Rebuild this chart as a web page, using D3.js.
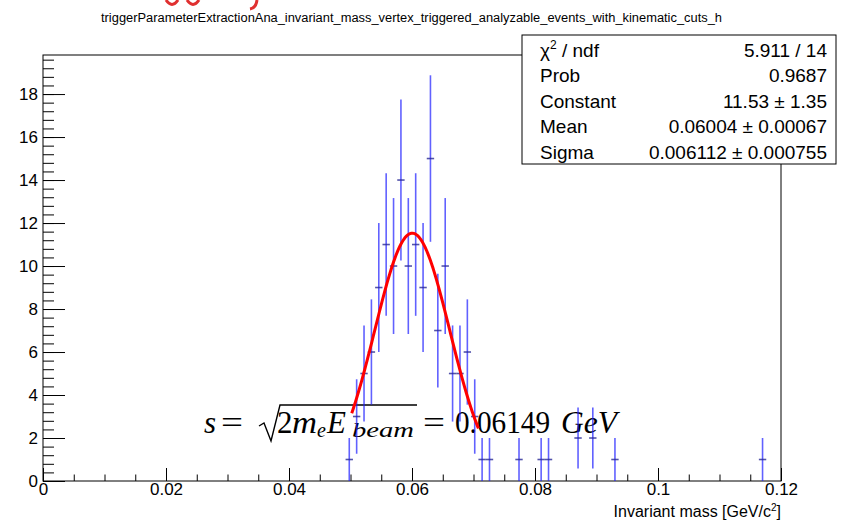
<!DOCTYPE html>
<html>
<head>
<meta charset="utf-8">
<script src="https://d3js.org/d3.v7.min.js"></script>
<style>
  body { margin:0; background:#fff; }
  svg { display:block; background:#fff; }
  .lbl { font-family:"Liberation Sans", Arial, sans-serif; fill:#000; }
  .tex { font-family:"Liberation Serif", "DejaVu Serif", serif; fill:#000; }
</style>
</head>
<body>
<script>
// histogram bins (bin width 0.0012 GeV, empty bins left out)
const binCenters = [0.0498, 0.0510, 0.0522, 0.0534, 0.0546, 0.0558, 0.0570, 0.0582, 0.0594, 0.0606,
                    0.0618, 0.0630, 0.0642, 0.0654, 0.0666, 0.0678, 0.0690, 0.0702, 0.0714, 0.0726,
                    0.0774, 0.0810, 0.0822, 0.0870, 0.0894, 0.0930, 0.1170];
const counts = [1, 3, 5, 6, 9, 11, 10, 14, 10, 11,
                9, 15, 7, 10, 5, 5, 6, 3, 1, 1,
                1, 1, 1, 2, 2, 1, 1];
const binWidth = 0.0012;

// gaussian fit results (from the stats box)
const statNames = ["χ2 / ndf", "Prob", "Constant", "Mean", "Sigma"];
const statValues = ["5.911 / 14", "0.9687", "11.53 ± 1.35", "0.06004 ± 0.00067", "0.006112 ± 0.000755"];
const fitConstant = 11.53, fitMean = 0.06004, fitSigma = 0.006112;
const fitRange = [0.0502, 0.0708];

const xTicks = [0, 0.02, 0.04, 0.06, 0.08, 0.1, 0.12];
const yTicks = [0, 2, 4, 6, 8, 10, 12, 14, 16, 18];
const title = "triggerParameterExtractionAna_invariant_mass_vertex_triggered_analyzable_events_with_kinematic_cuts_h";

const W = 858, H = 521;
const frame = { left: 43, right: 781, top: 55, bottom: 481 };

const svg = d3.select("body").append("svg").attr("width", W).attr("height", H);

const x = d3.scaleLinear().domain([0, 0.12]).range([frame.left, frame.right]);
const yMax = d3.max(counts, c => c + Math.sqrt(c)) * 1.05;
const y = d3.scaleLinear().domain([0, yMax]).range([frame.bottom, frame.top]);

// cut-off red bits at the very top
svg.append("path")
  .attr("d", "M166,0 Q172,9 178,0 M187,0 Q193,9 199,0 M257,0 Q256,8 250,9")
  .attr("fill", "none").attr("stroke", "#e03030").attr("stroke-width", 3);

// title
svg.append("text").attr("class", "lbl")
  .attr("x", 101).attr("y", 22)
  .attr("font-size", 12.5)
  .attr("textLength", 621).attr("lengthAdjust", "spacingAndGlyphs")
  .text(title);

// frame
svg.append("rect")
  .attr("x", frame.left).attr("y", frame.top)
  .attr("width", frame.right - frame.left).attr("height", frame.bottom - frame.top)
  .attr("fill", "none").attr("stroke", "#000").attr("stroke-width", 1);

// x axis
const xMinor = d3.range(0, 0.1201, 0.005);
svg.append("g").attr("transform", `translate(0,${frame.bottom})`)
  .call(d3.axisBottom(x).tickValues(xMinor).tickSize(-6.5).tickFormat(""))
  .call(g => g.select(".domain").remove());
svg.append("g").attr("class", "xaxis").attr("transform", `translate(0,${frame.bottom})`)
  .call(d3.axisBottom(x).tickValues(xTicks).tickSize(-13).tickPadding(2).tickFormat(d => String(d)))
  .call(g => g.select(".domain").remove())
  .call(g => g.selectAll("text").attr("class", "lbl").attr("font-size", 17).attr("font-family", null));

// y axis
const yMinor = d3.range(0, 19.7, 0.4);
svg.append("g").attr("transform", `translate(${frame.left},0)`)
  .call(d3.axisLeft(y).tickValues(yMinor).tickSize(-11).tickFormat(""))
  .call(g => g.select(".domain").remove());
svg.append("g").attr("transform", `translate(${frame.left},0)`)
  .call(d3.axisLeft(y).tickValues(yTicks).tickSize(-22).tickPadding(5))
  .call(g => g.select(".domain").remove())
  .call(g => g.selectAll("text").attr("class", "lbl").attr("font-size", 17).attr("font-family", null));
svg.selectAll(".tick line").attr("stroke", "#000");

// axis title
const xt = svg.append("text").attr("class", "lbl")
  .attr("x", frame.right).attr("y", 517).attr("text-anchor", "end").attr("font-size", 16);
xt.append("tspan").text("Invariant mass [GeV/c");
xt.append("tspan").attr("font-size", 10).attr("dy", -6).text("2");
xt.append("tspan").attr("dy", 6).text("]");

// formula  s = sqrt(2 m_e E_beam) = 0.06149 GeV
const tex = svg.append("g").attr("class", "formula");
const base = 433;
tex.append("text").attr("class", "tex").attr("x", 204).attr("y", base).attr("font-size", 31)
  .attr("font-style", "italic").text("s");
tex.append("text").attr("class", "tex").attr("x", 221).attr("y", base).attr("font-size", 32)
  .attr("textLength", 22).attr("lengthAdjust", "spacingAndGlyphs").text("=");
tex.append("path").attr("d", "M259,426 L264,423 L271,441 L280,405 L417,405")
  .attr("fill", "none").attr("stroke", "#000").attr("stroke-width", 1.4);
tex.append("text").attr("class", "tex").attr("x", 277).attr("y", base).attr("font-size", 31).text("2");
tex.append("text").attr("class", "tex").attr("x", 292).attr("y", base).attr("font-size", 31)
  .attr("font-style", "italic").attr("textLength", 25).attr("lengthAdjust", "spacingAndGlyphs").text("m");
tex.append("text").attr("class", "tex").attr("x", 317).attr("y", base + 4).attr("font-size", 20)
  .attr("font-style", "italic").text("e");
tex.append("text").attr("class", "tex").attr("x", 327).attr("y", base).attr("font-size", 31)
  .attr("font-style", "italic").text("E");
tex.append("text").attr("class", "tex").attr("x", 352).attr("y", base + 4).attr("font-size", 21)
  .attr("font-style", "italic").attr("textLength", 62).attr("lengthAdjust", "spacingAndGlyphs").text("beam");
tex.append("text").attr("class", "tex").attr("x", 423).attr("y", base).attr("font-size", 32)
  .attr("textLength", 22).attr("lengthAdjust", "spacingAndGlyphs").text("=");
tex.append("text").attr("class", "tex").attr("x", 455).attr("y", base).attr("font-size", 31)
  .attr("textLength", 95).attr("lengthAdjust", "spacingAndGlyphs").text("0.06149");
tex.append("text").attr("class", "tex").attr("x", 561).attr("y", base).attr("font-size", 31)
  .attr("font-style", "italic").attr("textLength", 56).attr("lengthAdjust", "spacingAndGlyphs").text("GeV");

// error bars
const bins = binCenters.map((c, i) => ({ c, n: counts[i], e: Math.sqrt(counts[i]) }));
const eb = svg.append("g").attr("class", "errbars");
eb.selectAll("line.v").data(bins).join("line").attr("class", "v")
  .attr("x1", d => x(d.c)).attr("x2", d => x(d.c))
  .attr("y1", d => y(d.n + d.e)).attr("y2", d => y(Math.max(0, d.n - d.e)))
  .attr("stroke", "rgba(30,30,255,0.7)").attr("stroke-width", 1.6);
eb.selectAll("line.h").data(bins).join("line").attr("class", "h")
  .attr("x1", d => x(d.c - binWidth / 2)).attr("x2", d => x(d.c + binWidth / 2))
  .attr("y1", d => y(d.n)).attr("y2", d => y(d.n))
  .attr("stroke", "rgba(40,40,150,0.8)").attr("stroke-width", 1.6);

// fit curve
const fx = d3.range(fitRange[0], fitRange[1] + 1e-9, (fitRange[1] - fitRange[0]) / 100);
const gauss = v => fitConstant * Math.exp(-0.5 * Math.pow((v - fitMean) / fitSigma, 2));
svg.append("path").datum(fx)
  .attr("d", d3.line().x(v => x(v)).y(v => y(gauss(v))))
  .attr("fill", "none").attr("stroke", "#ff0000").attr("stroke-width", 3);

// stats box
const box = { x: 522, y: 35, w: 314, h: 129 };
svg.append("rect").attr("x", box.x).attr("y", box.y).attr("width", box.w).attr("height", box.h)
  .attr("fill", "#fff").attr("stroke", "#000").attr("stroke-width", 1);
const rowH = 25.4;
statNames.forEach((name, i) => {
  const yy = box.y + 22 + i * rowH;
  const t = svg.append("text").attr("class", "lbl").attr("x", 540).attr("y", yy).attr("font-size", 19);
  if (i === 0) {
    t.append("tspan").text("χ");
    t.append("tspan").attr("font-size", 12).attr("dy", -8).text("2");
    t.append("tspan").attr("dy", 8).text(" / ndf");
  } else {
    t.text(name);
  }
  svg.append("text").attr("class", "lbl").attr("x", 827).attr("y", yy).attr("font-size", 19)
    .attr("text-anchor", "end").text(statValues[i]);
});
</script>
</body>
</html>
